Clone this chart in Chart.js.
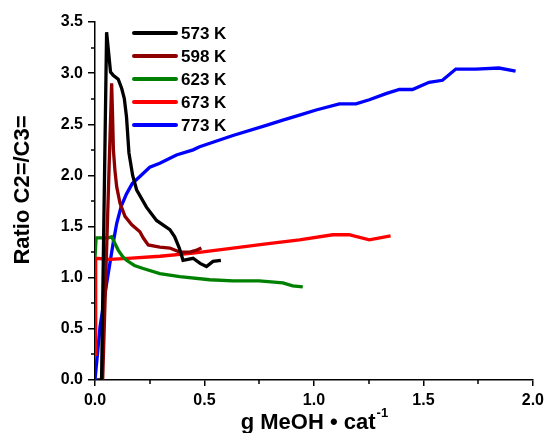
<!DOCTYPE html>
<html>
<head>
<meta charset="utf-8">
<title>C2=/C3= ratio</title>
<script src="https://cdn.jsdelivr.net/npm/chart.js@4/dist/chart.umd.min.js"></script>
<style>
  body { margin: 0; background: #fff; }
  #wrap { width: 549px; height: 433px; }
</style>
</head>
<body>
<div id="wrap"><canvas id="ratio" width="549" height="433"></canvas></div>
<script>
const FONT = 'Arial, "Liberation Sans", sans-serif';

const labels = ['573 K', '598 K', '623 K', '673 K', '773 K'];
const colors = ['#000000', '#8e0000', '#008000', '#ff0000', '#0000ff'];

const x573 = [0.008, 0.03, 0.053, 0.071, 0.083, 0.106, 0.122, 0.134, 0.144, 0.155, 0.172, 0.19, 0.235, 0.281, 0.342, 0.364, 0.385, 0.402, 0.448, 0.48, 0.509, 0.539, 0.575];
const y573 = [0, 0, 3.40, 3.01, 2.98, 2.94, 2.85, 2.75, 2.57, 2.22, 2.0, 1.86, 1.69, 1.56, 1.47, 1.40, 1.29, 1.17, 1.19, 1.14, 1.11, 1.16, 1.17];

const x598 = [0.035, 0.076, 0.08, 0.084, 0.091, 0.099, 0.114, 0.137, 0.167, 0.205, 0.22, 0.243, 0.296, 0.342, 0.387, 0.433, 0.465, 0.486];
const y598 = [0, 2.90, 2.60, 2.25, 2.05, 1.89, 1.73, 1.60, 1.52, 1.45, 1.39, 1.32, 1.30, 1.29, 1.25, 1.25, 1.27, 1.29];

const x623 = [0, 0.005, 0.03, 0.06, 0.076, 0.09, 0.106, 0.125, 0.144, 0.18, 0.22, 0.296, 0.387, 0.524, 0.63, 0.75, 0.858, 0.903, 0.949];
const y623 = [1.2, 1.39, 1.39, 1.39, 1.40, 1.34, 1.27, 1.21, 1.17, 1.12, 1.09, 1.04, 1.01, 0.98, 0.97, 0.97, 0.95, 0.92, 0.91];

const x673 = [0, 0.003, 0.068, 0.15, 0.296, 0.448, 0.63, 0.782, 0.934, 1.086, 1.16, 1.253, 1.35];
const y673 = [0.25, 1.19, 1.18, 1.19, 1.21, 1.24, 1.29, 1.33, 1.37, 1.42, 1.42, 1.37, 1.41];

const x773 = [0, 0.023, 0.053, 0.083, 0.099, 0.12, 0.144, 0.17, 0.205, 0.25, 0.296, 0.372, 0.448, 0.478, 0.63, 0.782, 0.858, 0.934, 1.01, 1.116, 1.192, 1.253, 1.329, 1.39, 1.45, 1.526, 1.587, 1.648, 1.739, 1.845, 1.921];
const y773 = [0, 0.52, 0.94, 1.34, 1.53, 1.70, 1.82, 1.92, 1.99, 2.08, 2.12, 2.20, 2.25, 2.28, 2.39, 2.49, 2.54, 2.59, 2.64, 2.70, 2.70, 2.74, 2.80, 2.84, 2.84, 2.91, 2.93, 3.04, 3.04, 3.05, 3.02];

const xs = [x573, x598, x623, x673, x773];
const ys = [y573, y598, y623, y673, y773];

const xMinor = [0.25, 0.75, 1.25, 1.75];
const yMinor = [0.25, 0.75, 1.25, 1.75, 2.25, 2.75, 3.25];

function pairs(xv, yv) {
  return xv.map((x, i) => ({ x: x, y: yv[i] }));
}

// minor ticks, the in-plot legend and both axis titles
const extras = {
  id: 'extras',
  afterDraw(chart) {
    const ctx = chart.ctx;
    const xs_ = chart.scales.x;
    const ys_ = chart.scales.y;
    const area = chart.chartArea;
    ctx.save();
    ctx.strokeStyle = '#000';
    ctx.lineWidth = 1.5;
    ctx.beginPath();
    xMinor.forEach(v => {
      const px = Math.round(xs_.getPixelForValue(v));
      ctx.moveTo(px, area.bottom);
      ctx.lineTo(px, area.bottom + 4);
    });
    yMinor.forEach(v => {
      const py = Math.round(ys_.getPixelForValue(v));
      ctx.moveTo(area.left, py);
      ctx.lineTo(area.left - 4, py);
    });
    ctx.stroke();

    // legend
    ctx.lineWidth = 4;
    ctx.lineCap = 'round';
    ctx.font = 'bold 17px ' + FONT;
    ctx.textBaseline = 'middle';
    ctx.textAlign = 'left';
    chart.data.datasets.forEach((ds, i) => {
      const y = 33 + i * 23;
      ctx.strokeStyle = ds.borderColor;
      ctx.beginPath();
      ctx.moveTo(134, y);
      ctx.lineTo(176, y);
      ctx.stroke();
      ctx.fillStyle = '#000';
      ctx.fillText(ds.label, 181, y + 1);
    });

    // y axis title
    ctx.fillStyle = '#000';
    ctx.font = 'bold 22px ' + FONT;
    ctx.textAlign = 'center';
    ctx.save();
    ctx.translate(23, 190);
    ctx.rotate(-Math.PI / 2);
    ctx.fillText('Ratio C2=/C3=', 0, 0);
    ctx.restore();

    // x axis title
    const main = 'g MeOH \u2022 cat';
    const sup = '-1';
    ctx.textAlign = 'left';
    ctx.font = 'bold 22px ' + FONT;
    const w1 = ctx.measureText(main).width;
    ctx.font = 'bold 13px ' + FONT;
    const w2 = ctx.measureText(sup).width;
    const cx = (area.left + area.right) / 2;
    const x0 = cx - (w1 + w2) / 2;
    ctx.textBaseline = 'alphabetic';
    ctx.font = 'bold 22px ' + FONT;
    ctx.fillText(main, x0, 429);
    ctx.font = 'bold 13px ' + FONT;
    ctx.fillText(sup, x0 + w1 + 1, 417);
    ctx.restore();
  }
};

const ctx = document.getElementById('ratio');

new Chart(ctx, {
  type: 'scatter',
  data: {
    datasets: labels.map((name, i) => ({
      label: name,
      data: pairs(xs[i], ys[i]),
      showLine: true,
      borderColor: colors[i],
      backgroundColor: colors[i],
      borderWidth: 3.3,
      pointRadius: 0,
      tension: 0
    }))
  },
  options: {
    responsive: false,
    animation: false,
    layout: { padding: { top: 22, right: 15, left: 0, bottom: 0 } },
    plugins: {
      legend: { display: false },
      tooltip: { enabled: false }
    },
    scales: {
      x: {
        type: 'linear',
        min: 0,
        max: 2.0,
        afterFit: s => { s.height = 53; },
        border: { color: '#000', width: 1.5 },
        grid: { drawOnChartArea: false, drawTicks: true, tickLength: 6, color: '#000', lineWidth: 1.5 },
        ticks: {
          stepSize: 0.5,
          padding: 5,
          color: '#000',
          font: { family: FONT, size: 16, weight: 'bold' },
          callback: v => v.toFixed(1)
        }
      },
      y: {
        type: 'linear',
        min: 0,
        max: 3.5,
        afterFit: s => { s.width = 95; },
        border: { color: '#000', width: 1.5 },
        grid: { drawOnChartArea: false, drawTicks: true, tickLength: 7, color: '#000', lineWidth: 1.5 },
        ticks: {
          stepSize: 0.5,
          padding: 5,
          color: '#000',
          font: { family: FONT, size: 16, weight: 'bold' },
          callback: v => v.toFixed(1)
        }
      }
    }
  },
  plugins: [extras]
});
</script>
</body>
</html>
